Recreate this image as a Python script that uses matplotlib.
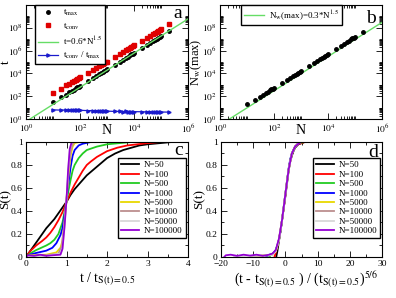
import math
import matplotlib
matplotlib.use('Agg')
import matplotlib.pyplot as plt
from matplotlib.ticker import FixedLocator, MultipleLocator, FuncFormatter, NullFormatter

plt.rcParams['font.family'] = ['Liberation Serif', 'DejaVu Serif']
plt.rcParams['mathtext.fontset'] = 'stix'

# ---- panels a, b: scaling with system size N ----
N = [10, 20, 30, 40, 50, 60, 70, 80, 90, 100,
     200, 300, 400, 500, 600, 700, 800, 900, 1000,
     2000, 3000, 4000, 5000, 6000, 7000, 8000, 9000, 10000,
     20000, 30000, 40000, 50000, 60000, 70000, 80000, 90000, 100000,
     200000]
t_max = [30, 78, 140, 212, 295, 385, 480, 585, 695, 810,
         2100, 3800, 5800, 8000, 10500, 13200, 16000, 19000, 22000,
         60000, 108000, 165000, 230000, 300000, 378000, 460000, 548000, 640000,
         1.75e6, 3.2e6, 4.9e6, 6.8e6, 8.9e6, 1.12e7, 1.37e7, 1.63e7, 1.9e7,
         5.3e7]
t_conv = [190, 470, 870, 1270, 1800, 2270, 2880, 3390, 4100, 4700,
          11300, 20900, 30200, 42400, 53600, 68600, 80000, 96900, 107800,
          276000, 508000, 742000, 1.06e6, 1.32e6, 1.70e6, 2.02e6, 2.36e6, 2.82e6,
          7.5e6, 1.34e7, 2.1e7, 2.8e7, 3.7e7, 4.5e7, 5.6e7, 6.5e7, 7.8e7,
          2.1e8]
ratio = [6.3, 6.0, 6.2, 6.0, 6.1, 5.9, 6.0, 5.8, 5.9, 5.8,
         5.4, 5.5, 5.2, 5.3, 5.1, 5.2, 5.0, 5.1, 4.9,
         4.6, 4.7, 4.5, 4.6, 4.4, 4.5, 4.4, 4.3, 4.4,
         4.3, 4.2, 4.3, 4.1, 4.2, 4.0, 4.1, 4.0, 4.1,
         4.0]
nw_max = [22, 50, 92, 140, 195, 255, 320, 395, 470, 550,
          1500, 2750, 4200, 5900, 7700, 9700, 11800, 14100, 16500,
          46000, 85000, 130000, 182000, 238000, 300000, 367000, 437000, 512000,
          1.45e6, 2.65e6, 4.1e6, 5.7e6, 7.5e6, 9.4e6, 1.15e7, 1.37e7, 1.6e7,
          4.5e7]
N_fit = [1, 1e6]

# ---- panel c: S(t) vs t / t_S=0.5 ----
c50_t = [0, 0.1, 0.2, 0.3, 0.4, 0.5, 0.6, 0.7, 0.8, 0.9, 1.0, 1.1, 1.2, 1.3, 1.4, 1.5, 1.6, 1.8, 2.0, 2.2, 2.4, 2.6, 2.8, 3.0, 3.3, 3.6, 4.0]
c50_s = [0.0, 0.05, 0.1, 0.15, 0.2, 0.25, 0.29, 0.33, 0.38, 0.43, 0.48, 0.54, 0.59, 0.63, 0.67, 0.71, 0.74, 0.80, 0.86, 0.90, 0.93, 0.95, 0.97, 0.98, 0.99, 1.0, 1.0]
c100_t = [0, 0.1, 0.25, 0.4, 0.5, 0.6, 0.7, 0.8, 0.9, 1.0, 1.1, 1.2, 1.3, 1.4, 1.5, 1.6, 1.75, 2.0, 2.25, 2.5, 2.75, 3.0, 3.3, 4.1]
c100_s = [0.0, 0.05, 0.1, 0.14, 0.17, 0.21, 0.26, 0.32, 0.39, 0.48, 0.56, 0.63, 0.69, 0.75, 0.8, 0.83, 0.87, 0.92, 0.95, 0.97, 0.98, 0.99, 1.0, 1.0]
c500_t = [0, 0.1, 0.25, 0.5, 0.6, 0.7, 0.8, 0.9, 1.0, 1.05, 1.1, 1.15, 1.2, 1.3, 1.4, 1.5, 1.75, 2.0, 2.3, 2.6, 3.0]
c500_s = [0.0, 0.03, 0.06, 0.1, 0.12, 0.15, 0.2, 0.3, 0.48, 0.58, 0.67, 0.75, 0.8, 0.86, 0.9, 0.93, 0.96, 0.98, 0.99, 1.0, 1.0]
c1000_t = [0, 0.1, 0.25, 0.5, 0.65, 0.75, 0.85, 0.9, 0.95, 1.0, 1.05, 1.1, 1.15, 1.2, 1.3, 1.4, 1.6, 2.0]
c1000_s = [0.0, 0.02, 0.035, 0.055, 0.08, 0.12, 0.19, 0.25, 0.36, 0.5, 0.65, 0.78, 0.88, 0.93, 0.97, 0.985, 1.0, 1.0]
c5000_t = [0, 0.1, 0.5, 0.75, 0.85, 0.9, 0.95, 1.0, 1.05, 1.1, 1.15, 1.2, 1.3, 1.6]
c5000_s = [0.0, 0.015, 0.02, 0.04, 0.08, 0.14, 0.3, 0.5, 0.72, 0.88, 0.96, 0.99, 1.0, 1.0]
c10000_t = [0, 0.1, 0.5, 0.8, 0.88, 0.94, 1.0, 1.05, 1.1, 1.15, 1.2, 1.4]
c10000_s = [0.0, 0.01, 0.015, 0.03, 0.09, 0.27, 0.5, 0.75, 0.92, 0.98, 1.0, 1.0]
c50000_t = [0, 0.5, 0.85, 0.9, 0.95, 1.0, 1.04, 1.08, 1.12, 1.15, 1.3]
c50000_s = [0.0, 0.01, 0.03, 0.08, 0.27, 0.5, 0.75, 0.93, 0.99, 1.0, 1.0]
c100000_t = [0, 0.05, 0.2, 0.35, 0.5, 0.65, 0.85, 0.9, 0.95, 1.0, 1.04, 1.08, 1.12, 1.15, 1.25]
c100000_s = [0.0, 0.015, 0.01, 0.02, 0.01, 0.015, 0.02, 0.07, 0.26, 0.5, 0.76, 0.94, 0.99, 1.0, 1.0]

# ---- panel d: collapsed curves ----
d50_x = [-2.85, -2.5, -2.0, -1.5, -1.0, -0.5, 0.0, 0.5, 1.0, 1.5, 2.0, 2.5, 3.0, 4.0, 5.0, 6.0, 7.0, 8.5]
d50_s = [0.0, 0.05, 0.14, 0.23, 0.33, 0.43, 0.53, 0.64, 0.75, 0.83, 0.88, 0.92, 0.95, 0.98, 0.99, 1.0, 1.0, 1.0]
d100_x = [-3.4, -3.0, -2.5, -2.0, -1.5, -1.0, -0.5, 0.0, 0.5, 1.0, 1.5, 2.0, 2.5, 3.0, 4.0, 5.0, 6.0, 8.0, 10.0, 12.5]
d100_s = [0.0, 0.04, 0.09, 0.15, 0.23, 0.33, 0.43, 0.54, 0.66, 0.76, 0.84, 0.89, 0.93, 0.96, 0.98, 0.99, 1.0, 1.0, 1.0, 1.0]
d500_x = [-5.0, -4.5, -4.0, -3.5, -3.0, -2.5, -2.0, -1.5, -1.0, -0.5, 0.0, 0.5, 1.0, 1.5, 2.0, 3.0, 4.0, 5.0, 6.0, 8.5]
d500_s = [0.0, 0.02, 0.03, 0.04, 0.06, 0.1, 0.15, 0.23, 0.33, 0.44, 0.55, 0.66, 0.76, 0.84, 0.9, 0.96, 0.985, 0.995, 1.0, 1.0]
d1000_x = [-6.0, -5.0, -4.0, -3.5, -3.0, -2.5, -2.0, -1.5, -1.0, -0.5, 0.0, 0.5, 1.0, 1.5, 2.0, 3.0, 4.0, 5.0, 6.5]
d1000_s = [0.0, 0.02, 0.025, 0.04, 0.06, 0.1, 0.15, 0.23, 0.33, 0.44, 0.55, 0.66, 0.77, 0.85, 0.9, 0.96, 0.985, 1.0, 1.0]
d5000_x = [-9.0, -7.0, -5.0, -4.0, -3.0, -2.0, -1.0, 0.0, 1.0, 2.0, 3.0, 4.0, 5.4]
d5000_s = [0.0, 0.015, 0.015, 0.02, 0.05, 0.15, 0.33, 0.55, 0.76, 0.9, 0.96, 0.99, 1.0]
d10000_x = [-10.7, -8.0, -5.0, -4.0, -3.0, -2.0, -1.0, 0.0, 1.0, 2.0, 3.0, 4.0]
d10000_s = [0.0, 0.012, 0.015, 0.02, 0.05, 0.15, 0.33, 0.55, 0.76, 0.9, 0.96, 1.0]
d50000_x = [-16.0, -12.0, -8.0, -5.0, -4.0, -3.0, -2.0, -1.0, 0.0, 1.0, 2.0, 3.0, 4.0, 4.8]
d50000_s = [0.0, 0.01, 0.012, 0.015, 0.02, 0.05, 0.15, 0.33, 0.55, 0.76, 0.9, 0.96, 0.99, 1.0]
d100000_x = [-19.0, -18.5, -17.0, -15.0, -13.0, -11.0, -9.0, -7.0, -5.0, -4.0, -3.0, -2.0, -1.0, 0.0, 1.0, 2.0, 3.0, 4.0, 5.0]
d100000_s = [0.0, 0.015, 0.02, 0.01, 0.02, 0.012, 0.02, 0.01, 0.02, 0.03, 0.06, 0.16, 0.33, 0.55, 0.76, 0.9, 0.96, 0.985, 1.0]

size_labels = ['N=50', 'N=100', 'N=500', 'N=1000', 'N=5000', 'N=10000', 'N=50000', 'N=100000']
colors = ['black', 'red', '#22cc22', 'blue', '#e8d800', '#bc8f8f', '#d8d8d8', '#9400d3']

curves_c = [(c50_t, c50_s), (c100_t, c100_s), (c500_t, c500_s), (c1000_t, c1000_s),
            (c5000_t, c5000_s), (c10000_t, c10000_s), (c50000_t, c50000_s), (c100000_t, c100000_s)]
curves_d = [(d50_x, d50_s), (d100_x, d100_s), (d500_x, d500_s), (d1000_x, d1000_s),
            (d5000_x, d5000_s), (d10000_x, d10000_s), (d50000_x, d50000_s), (d100000_x, d100000_s)]

fig = plt.figure(figsize=(3.96, 2.98), dpi=100)
ax_a = fig.add_axes([0.0657, 0.6007, 0.4091, 0.3826])
ax_b = fig.add_axes([0.5556, 0.6007, 0.4091, 0.3826])
ax_c = fig.add_axes([0.0657, 0.1376, 0.4091, 0.3859])
ax_d = fig.add_axes([0.5581, 0.1376, 0.4066, 0.3859])

fs_tick = 6.8
leg_kw = dict(frameon=True, fancybox=False, framealpha=1, edgecolor='black',
              borderaxespad=0, borderpad=0.35, handletextpad=0.5)


def style(ax):
    ax.tick_params(which='both', direction='in', top=True, right=True,
                   labelsize=fs_tick, width=0.6, pad=2.5)
    ax.tick_params(which='major', length=4)
    ax.tick_params(which='minor', length=2.2)
    for sp in ax.spines.values():
        sp.set_linewidth(0.8)


log_minor = [k * 10.0 ** e for e in [0, 2, 4, 6, 8] for k in range(2, 11)]
log_fmt = FuncFormatter(lambda v, p: r'$10^{%d}$' % round(math.log10(v)))

for ax in (ax_a, ax_b):
    ax.set_xscale('log')
    ax.set_yscale('log')
    ax.set_xlim(1, 1e6)
    ax.set_ylim(1, 1e10)
    ax.xaxis.set_major_locator(FixedLocator([1, 1e2, 1e4, 1e6]))
    ax.yaxis.set_major_locator(FixedLocator([1, 1e2, 1e4, 1e6, 1e8]))
    ax.xaxis.set_minor_locator(FixedLocator(log_minor))
    ax.yaxis.set_minor_locator(FixedLocator(log_minor))
    ax.xaxis.set_major_formatter(log_fmt)
    ax.yaxis.set_major_formatter(log_fmt)
    ax.xaxis.set_minor_formatter(NullFormatter())
    ax.yaxis.set_minor_formatter(NullFormatter())
    style(ax)
    ax.set_xlabel('N', fontsize=10)
    ax.xaxis.set_label_coords(0.5, -0.04)

# panel a
ax_a.plot(N, t_max, 'o', color='black', ms=2.5, label=r't$_{\rm max}$')
ax_a.plot(N, t_conv, 's', color='#e00000', ms=2.2, label=r't$_{\rm conv}$')
ax_a.plot(N_fit, [0.6 * n ** 1.5 for n in N_fit], color='#66dd66', lw=1.0,
          label=r't=0.6*N$^{1.5}$')
ax_a.plot(N, ratio, '>-', color='#1a1acc', ms=2.3, lw=0.9,
          label=r't$_{\rm conv}$ / t$_{\rm max}$')
ax_a.set_ylabel('t', fontsize=9.5)
ax_a.yaxis.set_label_coords(-0.09, 0.5)
ax_a.legend(loc='upper left', bbox_to_anchor=(0.056, 1.0), fontsize=6.5,
            labelspacing=0.35, handlelength=2.2, **leg_kw)
ax_a.text(0.965, 0.886, 'a', transform=ax_a.transAxes, ha='right', va='baseline', fontsize=14)

# panel b
ax_b.plot(N_fit, [0.3 * n ** 1.5 for n in N_fit], color='#66dd66', lw=1.0,
          label=r'N$_{\rm w}$(max)=0.3*N$^{1.5}$')
ax_b.plot(N, nw_max, 'o', color='black', ms=2.5)
ax_b.set_ylabel(r'N$_{\rm w}$(max)', fontsize=9)
ax_b.yaxis.set_label_coords(-0.1, 0.5)
ax_b.legend(loc='upper left', bbox_to_anchor=(0.13, 1.0), fontsize=6.5,
            handlelength=2.2, **leg_kw)
ax_b.text(0.963, 0.842, 'b', transform=ax_b.transAxes, ha='right', va='baseline', fontsize=14)

# panel c
for (tt, ss), col, lab in zip(curves_c, colors, size_labels):
    ax_c.plot(tt, ss, color=col, lw=1.3, label=lab)
ax_c.set_xlim(0, 4)
ax_c.set_ylim(0, 1)
ax_c.xaxis.set_major_locator(MultipleLocator(1))
ax_c.xaxis.set_minor_locator(MultipleLocator(0.5))
ax_c.yaxis.set_major_locator(MultipleLocator(0.2))
ax_c.yaxis.set_minor_locator(MultipleLocator(0.1))
ax_c.yaxis.set_major_formatter(FuncFormatter(lambda v, p: '%g' % round(v, 1)))
style(ax_c)
ax_c.set_ylabel('S(t)', fontsize=9.5)
ax_c.yaxis.set_label_coords(-0.09, 0.5)
ax_c.set_xlabel(r't / t$_{\rm S(t)=0.5}$', fontsize=10)
ax_c.xaxis.set_label_coords(0.5, -0.12)
ax_c.legend(loc='upper left', bbox_to_anchor=(0.568, 0.861), fontsize=6.5,
            labelspacing=0.12, handlelength=2.0, **leg_kw)
ax_c.text(0.969, 0.887, 'c', transform=ax_c.transAxes, ha='right', va='baseline', fontsize=14)

# panel d
for (xx, ss), col, lab in zip(curves_d, colors, size_labels):
    ax_d.plot(xx, ss, color=col, lw=1.3, label=lab)
ax_d.set_xlim(-20, 30)
ax_d.set_ylim(0, 1)
ax_d.xaxis.set_major_locator(MultipleLocator(10))
ax_d.xaxis.set_minor_locator(MultipleLocator(5))
ax_d.yaxis.set_major_locator(MultipleLocator(0.2))
ax_d.yaxis.set_minor_locator(MultipleLocator(0.1))
ax_d.yaxis.set_major_formatter(FuncFormatter(lambda v, p: '%g' % round(v, 1)))
style(ax_d)
ax_d.set_ylabel('S(t)', fontsize=9.5)
ax_d.yaxis.set_label_coords(-0.095, 0.5)
ax_d.set_xlabel(r'(t - t$_{\rm S(t)=0.5}$ ) / (t$_{\rm S(t)=0.5}$)$^{5/6}$', fontsize=10)
ax_d.xaxis.set_label_coords(0.53, -0.11)
ax_d.legend(loc='upper left', bbox_to_anchor=(0.571, 0.861), fontsize=6.5,
            labelspacing=0.12, handlelength=2.0, **leg_kw)
ax_d.text(0.975, 0.87, 'd', transform=ax_d.transAxes, ha='right', va='baseline', fontsize=14)

fig.savefig('out.png', dpi=100)
